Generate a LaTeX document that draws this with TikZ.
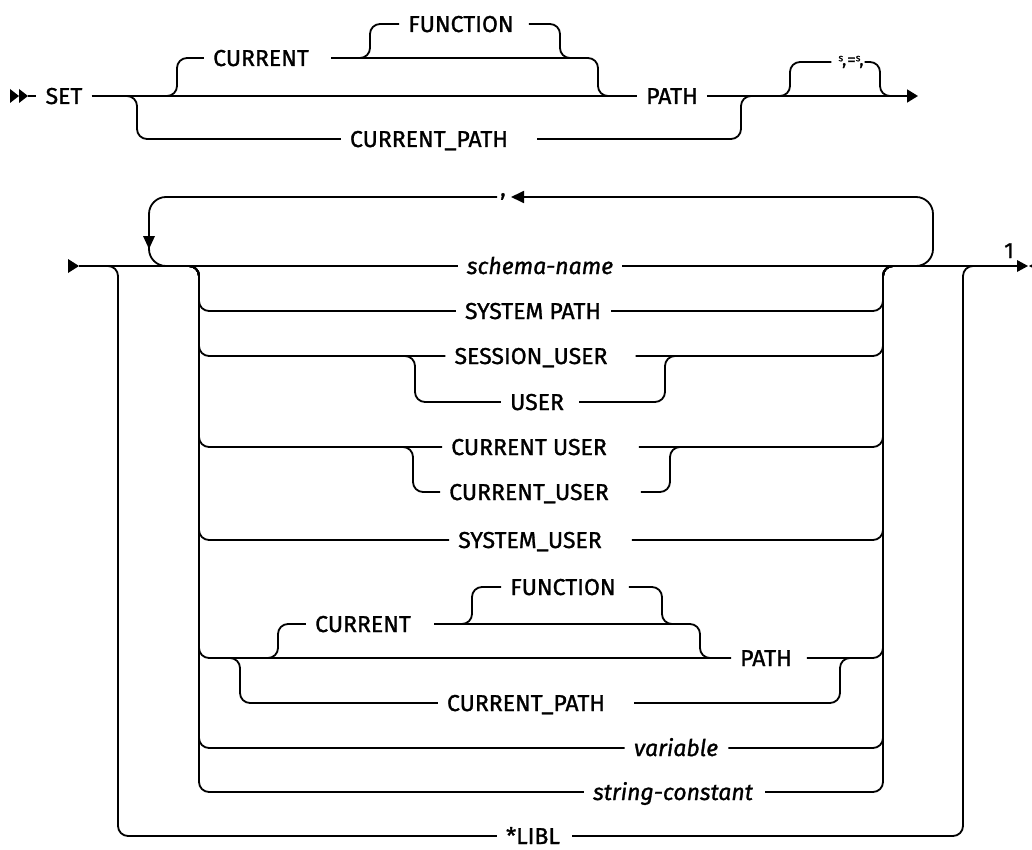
\documentclass[tikz,border=0pt]{standalone}
\usepackage{fontspec}
\setmainfont{Fira Sans}[FakeBold=1.2]
\usetikzlibrary{calc,arrows.meta}
\begin{document}
\begin{tikzpicture}[x=1pt,y=-1pt,
  ln/.style={line width=1.8pt},
  rr/.style={line width=1.8pt, rounded corners=10pt},
  loop/.style={line width=1.8pt, rounded corners=17pt},
  lbl/.style={inner xsep=9pt, inner ysep=0pt, text height=16pt, text depth=0pt, font=\fontsize{23}{26}\selectfont},
  it/.style={lbl, font=\fontsize{23}{26}\selectfont\itshape},
  tip/.style={fill=black}]
\useasboundingbox (0,0) rectangle (1032,850);

% ---------------- top diagram ----------------
\fill[tip] (10,89) -- (19,96) -- (10,103) -- cycle;
\fill[tip] (19,89) -- (28,96) -- (19,103) -- cycle;
\node[lbl] (set) at (64,96) {SET};
\node[lbl] (cur) at (261,58) {CURRENT};
\node[lbl] (fun) at (461,24) {FUNCTION};
\node[lbl] (path) at (672,96) {PATH};
\node[lbl] (cpath) at (429,139) {CURRENT\_PATH};
\node[inner sep=1pt, font=\fontsize{17}{17}\selectfont] (eq) at (851,62)
  {\raisebox{4pt}{\fontsize{10}{10}\selectfont s}\kern-1pt,\kern1pt=\raisebox{4pt}{\fontsize{10}{10}\selectfont s}\kern-1pt,};
\coordinate (st) at (28,96);
\coordinate (endA) at (918,96);

\draw[ln] (st) -- (set.west);
\draw[ln] (set.east) -- (path.west);
\draw[rr] (150,96) -| (177,58) -- (cur.west);
\draw[rr] ($(cur.east)+(13,0)$) -- (598,58) -- (598,96) -- (620,96);
\draw[rr] (348,58) -| (370,24) -- (fun.west);
\draw[rr] ($(fun.east)+(6,0)$) -- (560,24) -- (560,58) -- (580,58);
\draw[rr] (110,96) -| (137,139) -- (cpath.west);
\draw[rr] ($(cpath.east)+(20,0)$) -- (741,139) -- (741,96) -- (760,96);
\draw[ln, -{Triangle[length=11pt,width=13pt]}] (path.east) -- (endA);
\draw[rr] (770,96) -| (790,62) -- ($(eq.west)+(-6,0)$);
\draw[rr] (eq.east) -- (880,62) -- (880,96) -- (900,96);

% ---------------- bottom diagram ----------------
\fill[tip] (68,259) -- (79,266) -- (68,273) -- cycle;
\coordinate (bs) at (79,266);
\coordinate (be) at (1017,266);
\node[it] (schema) at (540,266) {schema-name};
\node[lbl] (sysp) at (533,311) {SYSTEM PATH};
\node[lbl] (sess) at (531,356) {SESSION\_USER};
\node[lbl] (user) at (537,402) {USER};
\node[lbl] (cuser) at (529,447) {CURRENT USER};
\node[lbl] (cuser2) at (529,492) {CURRENT\_USER};
\node[lbl] (sysu) at (530,540) {SYSTEM\_USER};
\node[lbl] (fun2) at (563,587) {FUNCTION};
\node[lbl] (cur2) at (363,624) {CURRENT};
\node[lbl] (path2) at (766,658) {PATH};
\node[lbl] (cp2) at (526,703) {CURRENT\_PATH};
\node[it] (var) at (676,748) {variable};
\node[it] (strc) at (673,792) {string-constant};
\node[lbl] (libl) at (533,836) {*LIBL};
\node[lbl, font=\fontsize{22}{24}\selectfont, inner xsep=2pt] (one) at (1009,250) {1};

\draw[ln] (bs) -- (schema.west);
\draw[ln] (schema.east) -- (be);
\fill[tip] (1017,260) -- (1028,266) -- (1017,272) -- cycle;
\fill[tip] (1040,260) -- (1029,266) -- (1040,272) -- cycle;

% repeat loop
\node[inner xsep=1pt, inner ysep=0pt, anchor=base, font=\fontsize{23}{26}\selectfont\upshape] (comma) at (503,196) {,};
\coordinate (cl) at (497,197);
\coordinate (cr) at (511,197);
\draw[loop, -{Triangle[length=13pt,width=12pt]}] (900,266) -- (933,266) -- (933,197) -- (cr);
\draw[loop] (cl) -- (149,197) -- (149,266) -- (185,266);
\fill[tip] (143,236) -- (155,236) -- (149,249) -- cycle;

% outer branch (*LIBL)
\draw[rr] (95,266) -| (118,836) -- (libl.west);
\draw[rr] ($(libl.east)+(3,0)$) -- (963,836) -- (963,266) -- (985,266);

% inner rows
\foreach \n/\y/\g in {sysp/311/1, sess/356/19, cuser/447/23, sysu/540/21, path2/658/6, var/748/1, strc/792/3}{
  \draw[rr] (178,266) -| (199,\y) -- (\n.west);
  \draw[rr] ($(\n.east)+(\g,0)$) -- (883,\y) -- (883,266) -- (905,266);
}

% SESSION_USER / USER
\draw[rr] (393,356) -| (415,402) -- (user.west);
\draw[rr] ($(user.east)+(6,0)$) -- (665,402) -- (665,356) -- (685,356);
% CURRENT USER / CURRENT_USER
\draw[rr] (391,447) -| (413,492) -- (cuser2.west);
\draw[rr] ($(cuser2.east)+(23,0)$) -- (670,492) -- (670,447) -- (690,447);

% CURRENT [FUNCTION] PATH / CURRENT_PATH
\draw[rr] (255,658) -| (278,624) -- (cur2.west);
\draw[rr] ($(cur2.east)+(14,0)$) -- (700,624) -- (700,658) -- (720,658);
\draw[rr] (450,624) -| (472,587) -- (fun2.west);
\draw[rr] ($(fun2.east)+(4,0)$) -- (662,587) -- (662,624) -- (682,624);
\draw[rr] (218,658) -| (240,703) -- (cp2.west);
\draw[rr] ($(cp2.east)+(20,0)$) -- (840,703) -- (840,658) -- (860,658);
\end{tikzpicture}
\end{document}
